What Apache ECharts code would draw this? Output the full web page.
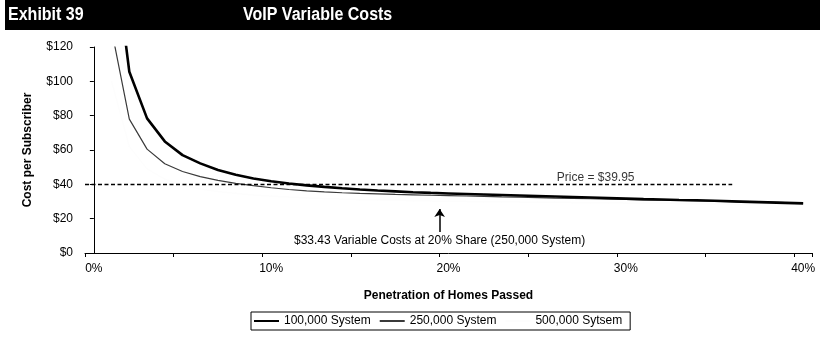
<!DOCTYPE html>
<html>
<head>
<meta charset="utf-8">
<script src="https://cdn.jsdelivr.net/npm/echarts@6.0.0/dist/echarts.min.js"></script>
<style>
  html, body { margin: 0; padding: 0; background: #fff; }
  #chart { width: 820px; height: 337px; }
</style>
</head>
<body>
<div id="chart"></div>
<script>
// Penetration categories (share of homes passed)
const categories = ['0%','1%','2%','3%','4%','5%','6%','7%','8%','9%','10%',
  '11%','12%','13%','14%','15%','16%','17%','18%','19%','20%',
  '21%','22%','23%','24%','25%','26%','27%','28%','29%','30%',
  '31%','32%','33%','34%','35%','36%','37%','38%','39%','40%'];

// Variable cost per subscriber ($) by system size
const sys100k = [null, 187, 105.6, 78.4, 65, 57, 52.2, 48.4, 45.6, 43.4, 41.8,
  40.5, 39.4, 38.5, 37.7, 37.0, 36.4, 35.9, 35.4, 35.0, 34.7,
  34.4, 34.1, 33.8, 33.5, 33.2, 32.9, 32.6, 32.3, 32.0, 31.7,
  31.4, 31.2, 30.9, 30.7, 30.4, 30.1, 29.8, 29.5, 29.2, 28.9];
const sys250k = [null, 130, 78, 60.5, 52, 47.5, 44.5, 42.3, 40.6, 39.2, 38.0,
  37.0, 36.2, 35.6, 35.1, 34.7, 34.4, 34.1, 33.9, 33.65, 33.43,
  33.2, 32.95, 32.7, 32.5, 32.25, 32.0, 31.8, 31.6, 31.4, 31.2,
  31.0, 30.8, 30.6, 30.4, 30.2, 30.0, 29.8, 29.6, 29.35, 29.1];
const sys500k = [null, 100, 62, 49, 43, 39.5, 37.3, 35.8, 34.7, 33.8, 33.1,
  32.6, 32.1, 31.7, 31.4, 31.1, 30.9, 30.7, 30.5, 30.3, 30.2,
  30.0, 29.9, 29.8, 29.7, 29.6, 29.5, 29.4, 29.3, 29.2, 29.1,
  29.0, 28.9, 28.8, 28.7, 28.6, 28.5, 28.4, 28.3, 28.2, 28.1];

const seriesNames = ['100,000 System', '250,000 System', '500,000 Sytsem'];

// Subscription price and its reference line (category-index units on the overlay axis)
const price = 39.95;
const priceSpan = [-0.5, 36];
const priceLabelAt = 28.3;

// Callout for the 250,000 system at 20% share
const calloutValue = 33.43;
const calloutX = 19.5;
const calloutArrow = [12.2, 25.6];

const yTicks = { min: 0, max: 120, interval: 20 };

const font = '"Liberation Sans", Arial, sans-serif';
const headFont = 'bold 18px "Liberation Sans", Arial, sans-serif';

const chart = echarts.init(document.getElementById('chart'), null, { renderer: 'canvas' });

chart.setOption({
  animation: false,
  backgroundColor: '#fff',
  textStyle: { fontFamily: font, color: '#000' },
  graphic: [
    { type: 'rect', left: 5, top: 0, shape: { width: 815, height: 30 }, style: { fill: '#000' }, silent: true },
    { type: 'text', x: 8, y: 6, scaleX: 0.89, style: { text: 'Exhibit 39', fill: '#fff', font: headFont } },
    { type: 'text', x: 243, y: 6, scaleX: 0.89, style: { text: 'VoIP Variable Costs', fill: '#fff', font: headFont } }
  ],
  legend: {
    data: seriesNames,
    left: 251,
    top: 312,
    orient: 'horizontal',
    borderColor: '#000',
    borderWidth: 1,
    padding: [3, 8, 3, 2],
    itemWidth: 25,
    itemHeight: 12,
    itemGap: 8,
    itemStyle: { opacity: 0 },
    textStyle: { fontFamily: font, fontSize: 12, color: '#000' }
  },
  grid: { left: 85, right: 8, top: 47, bottom: 84, containLabel: false },
  xAxis: [
    {
      type: 'category',
      data: categories,
      boundaryGap: true,
      name: 'Penetration of Homes Passed',
      nameLocation: 'middle',
      nameGap: 37,
      nameTextStyle: { fontFamily: font, fontSize: 12, fontWeight: 'bold', color: '#000' },
      axisLine: { show: true, lineStyle: { color: '#000', width: 1 } },
      axisTick: { show: true, interval: 4, length: 4, lineStyle: { color: '#000' } },
      axisLabel: { interval: 9, fontSize: 12, color: '#000', margin: 10, fontFamily: font },
      splitLine: { show: false }
    },
    {
      type: 'value',
      min: -0.5,
      max: 40.5,
      show: false
    }
  ],
  yAxis: {
    type: 'value',
    min: yTicks.min,
    max: yTicks.max,
    interval: yTicks.interval,
    name: 'Cost per Subscriber',
    nameLocation: 'middle',
    nameGap: 51,
    nameRotate: 90,
    nameTextStyle: { fontFamily: font, fontSize: 12, fontWeight: 'bold', color: '#000' },
    axisLine: { show: true, lineStyle: { color: '#000', width: 1 } },
    axisTick: { show: true, length: 4, lineStyle: { color: '#000' } },
    axisLabel: { formatter: '${value}', fontSize: 12, color: '#000', margin: 12, fontFamily: font },
    splitLine: { show: false }
  },
  series: [
    {
      name: seriesNames[2],
      type: 'line',
      data: sys500k,
      symbol: 'none',
      z: 1,
      lineStyle: { color: '#fdfdfd', width: 1 },
      itemStyle: { color: '#fdfdfd' }
    },
    {
      name: seriesNames[1],
      type: 'line',
      data: sys250k,
      symbol: 'none',
      z: 2,
      lineStyle: { color: '#3a3a3a', width: 1.2 },
      itemStyle: { color: '#3a3a3a' }
    },
    {
      name: seriesNames[0],
      type: 'line',
      data: sys100k,
      symbol: 'none',
      z: 3,
      lineStyle: { color: '#000', width: 2.6 },
      itemStyle: { color: '#000' }
    },
    {
      name: 'price',
      type: 'line',
      xAxisIndex: 1,
      data: priceSpan.map(x => [x, price]),
      symbol: 'none',
      z: 4,
      lineStyle: { color: '#000', width: 1.5, type: [4, 2.5] },
      markLine: {
        silent: true,
        symbol: ['none', 'arrow'],
        symbolSize: 8,
        lineStyle: { color: '#000', width: 1.5, type: 'solid' },
        label: {
          show: true,
          position: 'start',
          distance: 3,
          formatter: '$' + calloutValue.toFixed(2) + ' Variable Costs at 20% Share (250,000 System)',
          fontFamily: font,
          fontSize: 12,
          color: '#000'
        },
        data: [[
          { coord: [calloutX, calloutArrow[0]] },
          { coord: [calloutX, calloutArrow[1]] }
        ]]
      }
    },
    {
      name: 'priceLabel',
      type: 'scatter',
      xAxisIndex: 1,
      data: [[priceLabelAt, price]],
      symbolSize: 0,
      z: 5,
      label: {
        show: true,
        position: 'top',
        distance: 1,
        formatter: 'Price = $' + price.toFixed(2),
        fontFamily: font,
        fontSize: 12,
        color: '#000'
      }
    }
  ]
});
</script>
</body>
</html>
